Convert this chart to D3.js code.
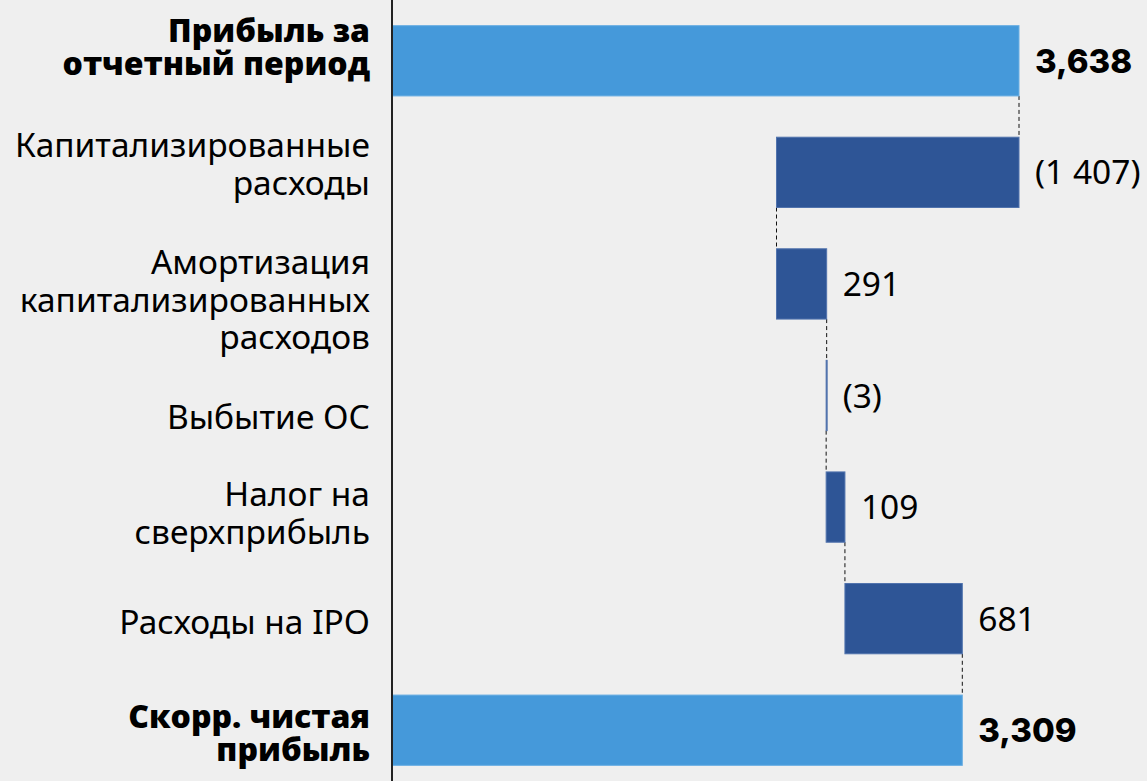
<!DOCTYPE html>
<html>
<head>
<meta charset="utf-8">
<script src="https://cdn.jsdelivr.net/npm/d3@7"></script>
<style>
  html, body { margin: 0; padding: 0; background: #efefef; }
  svg { display: block; }
</style>
</head>
<body>
<svg id="chart" width="1147" height="781"></svg>
<script>
// categories, each label split into lines
const categories = [
  ["Прибыль за", "отчетный период"],
  ["Капитализированные", "расходы"],
  ["Амортизация", "капитализированных", "расходов"],
  ["Выбытие ОС"],
  ["Налог на", "сверхприбыль"],
  ["Расходы на IPO"],
  ["Скорр. чистая", "прибыль"]
]
const values = [3638, -1407, 291, -3, 109, 681, 3309]
const isTotal = [true, false, false, false, false, false, true]
const valueLabels = ["3,638", "(1 407)", "291", "(3)", "109", "681", "3,309"]

// label text boxes in the source are not exactly centred on the bars
const labelShift = [-13, -8, 16, 22, 6, 4, 3]

const width = 1147
const height = 781
const svg = d3.select("#chart")

// build waterfall steps
let running = 0
const rows = values.map((v, i) => {
  let start, end
  if (isTotal[i]) {
    start = 0
    end = v
    running = v
  } else {
    start = running
    end = running + v
    running = end
  }
  return { i, v, start, end, total: isTotal[i], label: valueLabels[i], lines: categories[i] }
})

const x = d3.scaleLinear().domain([0, 3638]).range([392, 1019])
const y = d3.scaleBand()
  .domain(rows.map((d) => d.i))
  .range([5, 786])
  .paddingInner(0.37)
  .paddingOuter(0.185)

// connectors
const links = rows.slice(0, -1).map((d, k) => ({ at: d.end, from: d, to: rows[k + 1] }))
svg.append("g")
  .selectAll("line")
  .data(links)
  .enter()
  .append("line")
  .attr("x1", (d) => x(d.at))
  .attr("x2", (d) => x(d.at))
  .attr("y1", (d) => y(d.from.i) + y.bandwidth())
  .attr("y2", (d) => y(d.to.i))
  .style("stroke", "#111")
  .style("stroke-width", 1)
  .style("stroke-dasharray", "4,3")

// bars
svg.append("g")
  .selectAll("rect")
  .data(rows)
  .enter()
  .append("rect")
  .attr("x", (d) => x(Math.min(d.start, d.end)))
  .attr("y", (d) => y(d.i))
  .attr("width", (d) => Math.max(1, Math.abs(x(d.end) - x(d.start))))
  .attr("height", y.bandwidth())
  .style("fill", (d) => (d.total ? "#4599da" : "#2e5596"))
  .style("stroke", (d) => (d.total ? "#6aaee3" : "#5173ad"))
  .style("stroke-width", 1)

// value labels
svg.append("g")
  .selectAll("text")
  .data(rows)
  .enter()
  .append("text")
  .attr("x", (d) => x(Math.max(d.start, d.end)) + 16)
  .attr("y", (d) => y(d.i) + y.bandwidth() / 2)
  .attr("dy", "0.36em")
  .style("font-family", (d) => (d.total ? "Inter, sans-serif" : "'Noto Sans', sans-serif"))
  .style("font-size", (d) => (d.total ? "33px" : "33.5px"))
  .style("font-weight", (d) => (d.total ? 800 : 400))
  .style("fill", "#000")
  .text((d) => d.label)

// category labels
const cat = svg.append("g")
  .selectAll("text")
  .data(rows)
  .enter()
  .append("text")
  .attr("text-anchor", "end")
  .style("font-family", (d) => (d.total ? "'Open Sans', sans-serif" : "'Noto Sans', sans-serif"))
  .style("font-size", (d) => (d.total ? "32px" : "33.5px"))
  .style("font-weight", (d) => (d.total ? 800 : 400))
  .style("fill", "#000")

cat.each(function (d) {
  const cy = y(d.i) + y.bandwidth() / 2 + labelShift[d.i]
  const n = d.lines.length
  const lineH = d.total ? 33 : 37.5
  d3.select(this)
    .selectAll("tspan")
    .data(d.lines)
    .enter()
    .append("tspan")
    .attr("x", 370)
    .attr("y", (t, k) => cy + (k - (n - 1) / 2) * lineH)
    .attr("dy", "0.35em")
    .text((t) => t)
})

// axis line
svg.append("line")
  .attr("x1", 392).attr("x2", 392)
  .attr("y1", 0).attr("y2", height)
  .style("stroke", "#222")
  .style("stroke-width", 2)
</script>
</body>
</html>
